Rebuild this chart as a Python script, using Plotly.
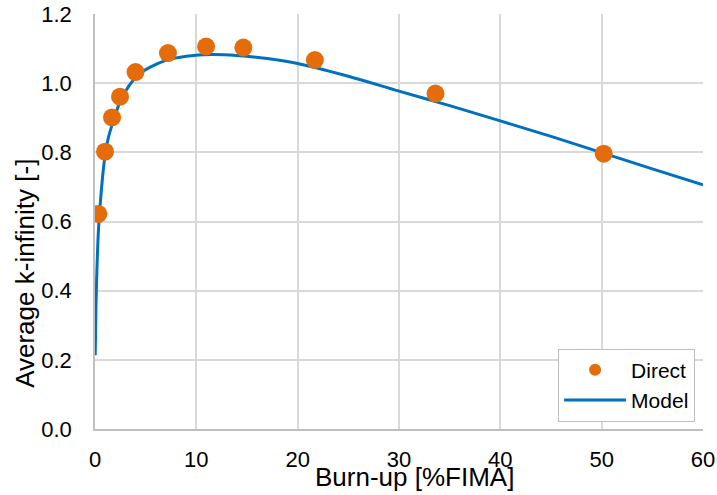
import plotly.graph_objects as go

# Direct calculation points
direct_x = [0.33, 0.99, 1.68, 2.47, 4.0, 7.2, 10.96, 14.64, 21.7, 33.6, 50.2]
direct_y = [0.622, 0.802, 0.901, 0.961, 1.032, 1.087, 1.106, 1.103, 1.067, 0.970, 0.796]

# Model curve
model_x = [0.02, 0.1, 0.2, 0.35, 0.6, 0.9, 1.3, 1.8, 2.5, 3.3, 4.3, 5.5, 7, 9, 11.5, 14, 17, 20,
           25, 30, 35, 40, 45, 50, 55, 60]
model_y = [0.213, 0.36, 0.47, 0.58, 0.68, 0.77, 0.84, 0.89, 0.948, 0.99, 1.025, 1.047, 1.066, 1.078,
           1.083, 1.080, 1.071, 1.057, 1.02, 0.977, 0.935, 0.891, 0.846, 0.799, 0.752, 0.706]

x_ticks = [0, 10, 20, 30, 40, 50, 60]
y_ticks = [0.0, 0.2, 0.4, 0.6, 0.8, 1.0, 1.2]

ORANGE = "#E46C0A"
BLUE = "#0070C0"
FONT = "Liberation Sans, Arial, sans-serif"

fig = go.Figure()
fig.add_trace(go.Scatter(x=model_x, y=model_y, mode="lines", line=dict(color=BLUE, width=3, shape="spline"),
                         showlegend=False, hoverinfo="skip"))
fig.add_trace(go.Scatter(x=direct_x, y=direct_y, mode="markers", marker=dict(color=ORANGE, size=18),
                         showlegend=False))
# legend entries
fig.add_trace(go.Scatter(x=[None], y=[None], mode="markers", marker=dict(color=ORANGE, size=12), name="Direct"))
fig.add_trace(go.Scatter(x=[None], y=[None], mode="lines", line=dict(color=BLUE, width=3), name="Model"))

fig.update_layout(
    width=717, height=495,
    margin=dict(l=95, r=14, t=14, b=65.5, autoexpand=False),
    paper_bgcolor="white", plot_bgcolor="white",
    font=dict(family=FONT, size=22, color="#000000"),
    legend=dict(x=0.987, y=0.018, xanchor="right", yanchor="bottom",
                bordercolor="#BFBFBF", borderwidth=1, bgcolor="white",
                font=dict(size=21), tracegroupgap=0, itemwidth=62),
    annotations=[
        dict(text="Burn-up [%FIMA]", xref="paper", yref="paper", x=0.5247, y=0,
             yshift=-48, showarrow=False, xanchor="center", yanchor="middle",
             font=dict(size=26)),
        dict(text="Average k-infinity [-]", xref="paper", yref="paper", x=-0.115, y=0.374,
             textangle=-90, showarrow=False, xanchor="center", yanchor="middle",
             font=dict(size=26)),
    ],
)
fig.update_xaxes(range=[0, 60], tickvals=x_ticks, showgrid=True, gridcolor="#D9D9D9", gridwidth=1.5,
                 showline=True, linecolor="#BFBFBF", linewidth=1.5, zeroline=False, automargin=False,
                 ticks="", ticklabelstandoff=10, tickfont=dict(size=22))
fig.update_yaxes(range=[0, 1.2], tickvals=y_ticks, tickformat=".1f", showgrid=True, gridcolor="#D9D9D9",
                 gridwidth=1.5, showline=True, linecolor="#BFBFBF", linewidth=1.5, zeroline=False,
                 automargin=False, ticks="", ticklabelstandoff=17, tickfont=dict(size=22))

fig.write_html("out.html", config={"displayModeBar": False},
               post_script="document.body.style.margin='0';document.body.style.padding='0';")
